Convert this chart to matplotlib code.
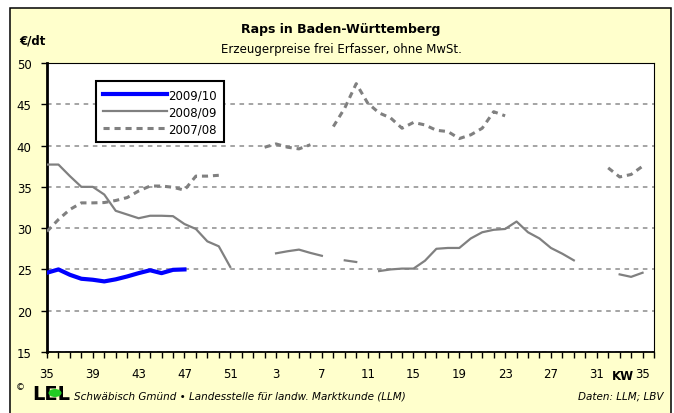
import numpy as np
import matplotlib.pyplot as plt
from matplotlib.patches import Rectangle, Circle

# Kalenderwochen 35 .. 35 (Folgejahr)
weeks = [35, 36, 37, 38, 39, 40, 41, 42, 43, 44, 45, 46, 47, 48, 49, 50, 51, 52,
         1, 2, 3, 4, 5, 6, 7, 8, 9, 10, 11, 12, 13, 14, 15, 16, 17, 18, 19, 20,
         21, 22, 23, 24, 25, 26, 27, 28, 29, 30, 31, 32, 33, 34, 35]

nan = np.nan
# Erzeugerpreise €/dt
raps_2009_10 = [24.6, 25.0, 24.35, 23.87, 23.75, 23.55, 23.8, 24.15, 24.55, 24.9,
                24.55, 24.95, 25.0]
raps_2008_09 = [37.7, 37.7, 36.3, 35.0, 35.0, 34.07, 32.1, 31.65, 31.2, 31.5,
                31.5, 31.45, 30.5, 29.9, 28.4, 27.8, 25.3, nan, nan, nan,
                26.95, 27.2, 27.4, 27.0, 26.65, nan, 26.1, 25.9, nan, 24.8,
                25.0, 25.1, 25.1, 26.05, 27.5, 27.6, 27.6, 28.75, 29.5, 29.8,
                29.9, 30.8, 29.5, 28.75, 27.6, 26.9, 26.1, nan, nan, nan,
                24.4, 24.1, 24.6]
raps_2007_08 = [29.6, 31.05, 32.26, 33.06, 33.06, 33.1, 33.35, 33.7, 34.5, 35.1,
                35.1, 34.95, 34.6, 36.3, 36.3, 36.4, nan, nan, nan, 39.8,
                40.2, 39.8, 39.6, 40.1, nan, 42.3, 44.55, 47.5, 45.15, 43.95,
                43.35, 42.1, 42.8, 42.5, 41.85, 41.7, 40.85, 41.3, 42.1, 44.1,
                43.6, nan, nan, nan, nan, nan, nan, nan, nan, 37.3,
                36.2, 36.5, 37.5]

W, H = 674, 414
fig = plt.figure(figsize=(W / 100, H / 100), dpi=100)
fig.patch.set_facecolor('white')

# gelber Rahmen um das ganze Diagramm
fig.patches.append(Rectangle((10 / W, -0.01), 661 / W, 1 - 9 / H + 0.01,
                             transform=fig.transFigure, facecolor='#FFFFCC',
                             edgecolor='black', linewidth=1.1, zorder=-5))

ax = fig.add_axes([47 / W, (H - 353) / H, 607 / W, 289 / H])
ax.set_facecolor('white')
ax.set_zorder(1)

x = np.arange(len(weeks))
ax.plot(x[:len(raps_2009_10)], raps_2009_10, color='#0000FF', lw=3.0,
        label='2009/10', zorder=4)
ax.plot(x, raps_2008_09, color='#808080', lw=1.6, label='2008/09', zorder=3)
ax.plot(x, raps_2007_08, color='#808080', lw=2.2, linestyle=(0, (2.0, 1.6)),
        label='2007/08', zorder=3)

ax.set_xlim(0, 53)
ax.set_ylim(15, 50)

# Gitterlinien
ax.set_yticks(np.arange(15, 51, 5))
ax.yaxis.grid(True, color='#8c8c8c', linestyle=(0, (3, 3)), lw=1.1)
ax.set_axisbelow(True)
ax.tick_params(axis='y', direction='out', length=4, width=1, pad=7,
               labelsize=8.5)

ax.set_xticks(np.arange(0, 54))
labels = []
for i in range(54):
    if i < 49 and i % 4 == 0:
        labels.append(str(weeks[i]))
    elif i == 52:
        labels.append(str(weeks[52]))
    else:
        labels.append('')
ax.set_xticklabels(labels)
ax.tick_params(axis='x', direction='out', length=4, width=1, pad=7,
               labelsize=8.5)
ax.text(50.3, -0.06, 'KW', transform=ax.get_xaxis_transform(), ha='center',
        va='top', fontsize=8.5, fontweight='bold')

ax.spines['left'].set_linewidth(2.0)
ax.spines['bottom'].set_linewidth(1.3)
ax.spines['top'].set_linewidth(0.8)
ax.spines['right'].set_linewidth(0.8)

leg = ax.legend(loc='upper left', bbox_to_anchor=((96 - 47) / 607, (353 - 82) / 289),
                borderaxespad=0, fontsize=8.5, fancybox=False, framealpha=1,
                edgecolor='black', handlelength=5.4, handletextpad=0.15,
                labelspacing=0.35, borderpad=0.6)
leg.get_frame().set_linewidth(1.5)

# Titel
fig.text(341 / W, 1 - 30 / H, 'Raps in Baden-Württemberg', ha='center',
         va='center', fontsize=9, fontweight='bold')
fig.text(341 / W, 1 - 49 / H, 'Erzeugerpreise frei Erfasser, ohne MwSt.',
         ha='center', va='center', fontsize=8.5)
fig.text(19 / W, 1 - 41 / H, '€/dt', ha='left', va='center', fontsize=8.5,
         fontweight='bold')

# Fußzeile mit Logo
fig.text(20 / W, 1 - 388 / H, '©', ha='center', va='center', fontsize=6.5)
fig.text(32 / W, 1 - 395 / H, 'LEL', ha='left', va='center', fontsize=14,
         fontweight='bold')
fig.patches.append(Circle((55 / W, 1 - 394 / H), 6.5 / W, transform=fig.transFigure,
                          facecolor='#22CC22', edgecolor='none', zorder=5))
fig.text(74 / W, 1 - 397 / H,
         'Schwäbisch Gmünd • Landesstelle für landw. Marktkunde (LLM)',
         ha='left', va='center', fontsize=7.5, style='italic')
fig.text(663 / W, 1 - 397 / H, 'Daten: LLM; LBV', ha='right', va='center',
         fontsize=7.5, style='italic')

fig.savefig('out.png', dpi=100)
